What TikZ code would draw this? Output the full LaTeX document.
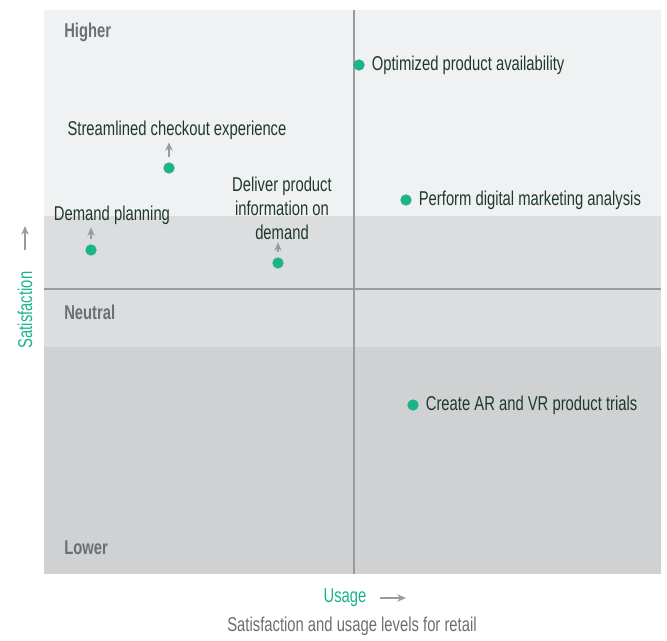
\documentclass[tikz,border=0pt]{standalone}
\usepackage{fontspec}
\setmainfont{Liberation Sans}[FakeStretch=0.74]
\usepackage{xcolor}
\usepackage{tikz}
\usetikzlibrary{calc,positioning,arrows.meta}
\definecolor{dotgreen}{HTML}{1BB38A}
\definecolor{txtgreen}{HTML}{1F3A2B}
\definecolor{bandhi}{HTML}{F0F1F3}
\definecolor{bandmid}{HTML}{DCDDDF}
\definecolor{bandlo}{HTML}{D0D1D3}
\definecolor{linegray}{HTML}{9A9B9D}
\definecolor{capgray}{HTML}{6D6E71}
\tikzset{
  dot/.style={circle,fill=dotgreen,inner sep=0pt,minimum size=8.5pt},
  lbl/.style={text=txtgreen,font=\fontsize{15}{18}\selectfont,inner sep=1pt},
  lvl/.style={text=capgray,font=\fontsize{15}{18}\selectfont\bfseries,anchor=west,inner sep=0pt},
  arr/.style={->,linegray,thick,shorten >=1pt,shorten <=4pt}
}

\begin{document}
\begin{tikzpicture}[>={Stealth[length=6.5pt,width=5.5pt]},x=0.75pt,y=-0.75pt]
\useasboundingbox (0,0) rectangle (667,640);
% bands
\fill[bandhi] (44,10) rectangle (661,216);
\fill[bandmid] (44,216) rectangle (661,347);
\fill[bandlo] (44,347) rectangle (661,574);
\draw[linegray,thick] (44,289) -- (661,289);
\draw[linegray,thick] (354,10) -- (354,574);
% levels
\node[lvl] (hi) at (64,32) {Higher};
\node[lvl] (ne) at (64,312) {Neutral};
\node[lvl] (lo) at (64,548) {Lower};
% points
\node[dot] (opt) at (359,65) {};
\node[lbl,right=4pt of opt] (optl) {Optimized product availability};
\node[dot] (perf) at (406,200) {};
\node[lbl,right=4pt of perf] (perfl) {Perform digital marketing analysis};
\node[dot] (arvr) at (413,405) {};
\node[lbl,right=4pt of arvr] (arvrl) {Create AR and VR product trials};
\node[dot] (chk) at (169,168) {};
\node[lbl] (chkl) at (177,130) {Streamlined checkout experience};
\draw[arr] (chk) -- (chk |- chkl.south);
\node[dot] (dem) at (91,250) {};
\node[lbl] (deml) at (112,215) {Demand planning};
\draw[arr] (dem) -- (dem |- deml.south);
\node[dot] (dlv) at (278,263) {};
\node[lbl,align=center] (dlvl) at (282,208) {Deliver product\\information on\\demand};
\draw[arr] (dlv) -- (dlv |- dlvl.south);
% axes
\node[text=dotgreen,font=\fontsize{15}{18}\selectfont,rotate=90] (sat) at (25,310) {Satisfaction};
\coordinate (satbeg) at (25,250);
\coordinate (sattop) at (25,226);
\draw[->,linegray,thick] (satbeg) -- (sattop);
\node[text=dotgreen,font=\fontsize{15}{18}\selectfont] (use) at (345,598) {Usage};
\coordinate (usebeg) at (380,598);
\coordinate (useend) at (406,598);
\draw[->,linegray,thick] (usebeg) -- (useend);
\node[text=capgray,font=\fontsize{15}{18}\selectfont] (cap) at (352,626) {Satisfaction and usage levels for retail};
\end{tikzpicture}
\end{document}
